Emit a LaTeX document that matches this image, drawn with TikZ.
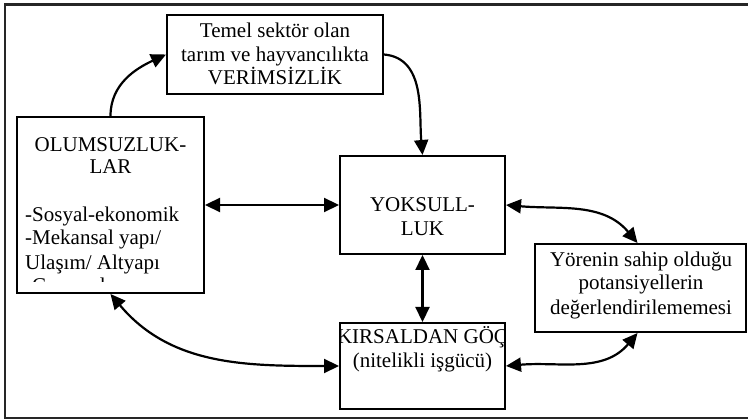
\documentclass[tikz,border=0pt]{standalone}
\usepackage{fontspec}
\setmainfont{Liberation Serif}
\usetikzlibrary{arrows.meta}
\begin{document}
\begin{tikzpicture}[x=1pt,y=1pt,
  box/.style={draw, line width=2pt, rectangle, inner sep=0pt},
  txt/.style={font=\fontsize{21}{24}\selectfont, inner sep=0pt, anchor=base},
  tip/.tip={Triangle[length=15pt,width=14pt]},
  arr/.style={line width=2.2pt, -tip},
  darr/.style={line width=2.2pt, tip-tip}]
\useasboundingbox (0,0) rectangle (748,420);
\draw[line width=2.5pt, black!85] (748,415.5) -- (5,415.5) -- (5,2) -- (748,2);

% boxes
\node[box, minimum width=216pt, minimum height=79pt] (temel) at (275,365.5) {};
\node[box, minimum width=187pt, minimum height=176pt] (olum) at (110.5,215) {};
\node[box, minimum width=165pt, minimum height=98pt] (yok) at (422.5,215) {};
\node[box, minimum width=165pt, minimum height=86pt] (kir) at (422.5,54) {};
\node[box, minimum width=211pt, minimum height=88pt] (yor) at (640.5,132) {};

% texts
\node[txt] (t1) at (275,382.7) {Temel sektör olan};
\node[txt] (t2) at (275,358.3) {tarım ve hayvancılıkta};
\node[txt] (t3) at (275,335) {VERİMSİZLİK};

\node[txt] (o1) at (110.5,268.3) {OLUMSUZLUK-};
\node[txt] (o2) at (110.5,246) {LAR};
\begin{scope}
  \clip (18,138) rectangle (203,302);
  \node[txt, anchor=base west] (o3) at (25,198.3) {-Sosyal-ekonomik};
  \node[txt, anchor=base west] (o4) at (25,175) {-Mekansal yapı/};
  \node[txt, anchor=base west] (o5) at (25,150.7) {Ulaşım/ Altyapı};
  \node[txt, anchor=base west] (o6) at (25,127) {-Çevresel};
\end{scope}

\node[txt] (y1) at (422.5,208.3) {YOKSULL-};
\node[txt] (y2) at (422.5,184) {LUK};

\begin{scope}
  \clip (341,12) rectangle (504,96);
  \node[txt] (k1) at (422.5,76.7) {KIRSALDAN GÖÇ};
  \node[txt] (k2) at (422.5,52) {(nitelikli işgücü)};
\end{scope}

\node[txt] (r1) at (641,153.3) {Yörenin sahip olduğu};
\node[txt] (r2) at (641,130) {potansiyellerin};
\node[txt] (r3) at (641,105) {değerlendirilememesi};

% connectors
\draw[arr] (olum.north) to[out=90,in=205] (temel.west);
\draw[arr] (temel.east) to[out=-5,in=95] (yok.north);
\draw[darr] (olum.east) -- (yok.west);
\draw[darr] (yok.east) to[out=-5,in=130] ([xshift=-3pt]yor.north);
\draw[darr] (yok.south) -- (kir.north);
\draw[darr] (olum.south) to[out=-50,in=180] (kir.west);
\draw[darr] (kir.east) to[out=5,in=-130] ([xshift=-3pt]yor.south);
\end{tikzpicture}
\end{document}
